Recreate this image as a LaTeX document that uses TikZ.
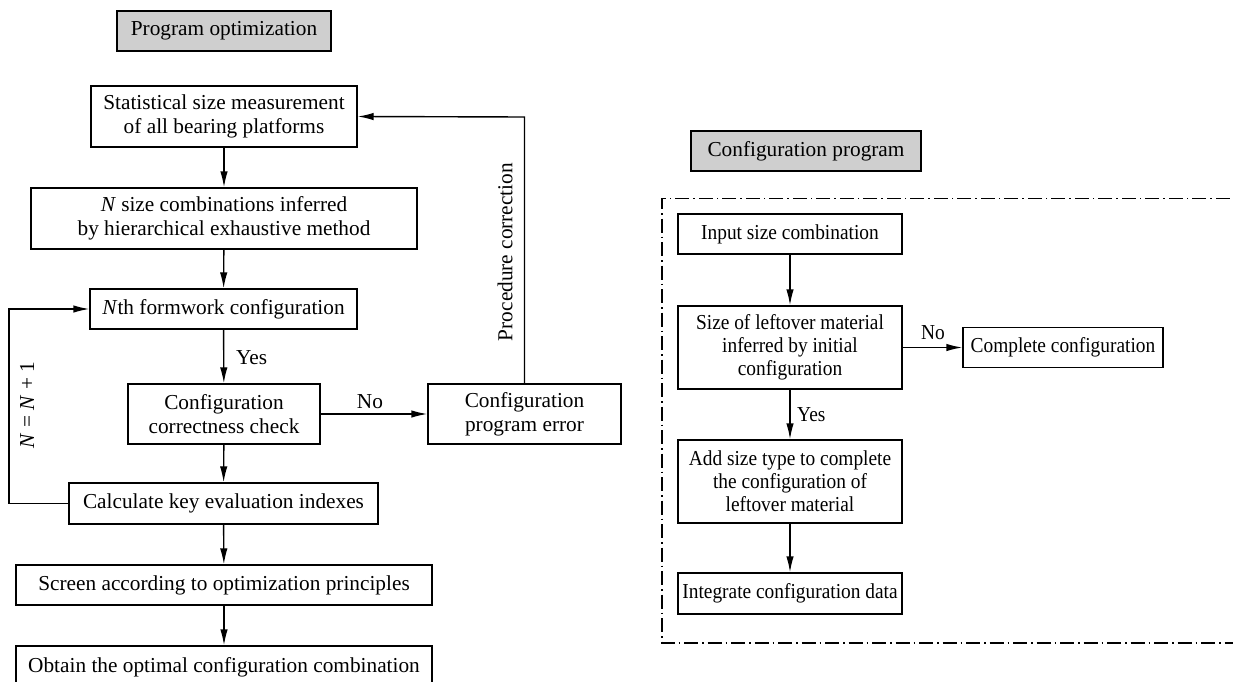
\documentclass[tikz,border=0pt]{standalone}
\usepackage{fontspec}
\setmainfont{Liberation Serif}
\newfontfamily\rfont[FakeStretch=0.91]{Liberation Serif}
\usetikzlibrary{arrows.meta}
\newcommand{\fsz}{\fontsize{21.3}{24}\selectfont}
\newcommand{\rfsz}{\rfont\fontsize{21.3}{23}\selectfont}
\begin{document}
\begin{tikzpicture}[x=1pt,y=-1pt,
  stepbox/.style={draw, line width=1.4pt, inner sep=0pt, align=center, font=\fsz},
  rbox/.style={stepbox, font=\rfsz},
  hdrbox/.style={stepbox, fill=black!19},
  conn/.style={line width=1.4pt, -{Latex[length=16pt,width=7.5pt]}},
  lbl/.style={inner sep=0pt, font=\fsz},
  rlbl/.style={inner sep=0pt, font=\rfsz},
  frame/.style={line width=1.4pt, dash pattern=on 14pt off 4pt on 1.5pt off 4pt}
]
\useasboundingbox (0,0) rectangle (1233,682);
\clip (0,0) rectangle (1233,682);

% left part
\node[hdrbox, minimum width=214pt, minimum height=40pt] (h1) at (224,31) {Program optimization};
\node[stepbox, minimum width=266pt, minimum height=61pt] (b1) at (224,116.5) {Statistical size measurement\\of all bearing platforms};
\node[stepbox, minimum width=386pt, minimum height=61pt] (b2) at (224,218.5) {\textit{N} size combinations inferred\\by hierarchical exhaustive method};
\node[stepbox, minimum width=267pt, minimum height=40pt] (b3) at (223.5,309) {\textit{N}th formwork configuration};
\node[stepbox, minimum width=192pt, minimum height=60pt] (b4) at (224,414) {Configuration\\correctness check};
\node[stepbox, minimum width=193pt, minimum height=60pt] (b5) at (524.5,414) {Configuration\\program error};
\node[stepbox, minimum width=309pt, minimum height=41pt] (b6) at (223.5,503.5) {Calculate key evaluation indexes};
\node[stepbox, minimum width=416pt, minimum height=40pt] (b7) at (224,585) {Screen according to optimization principles};
\node[stepbox, minimum width=416pt, minimum height=42pt] (b8) at (224,667) {Obtain the optimal configuration combination};

\coordinate (pc) at (524.5,117);
\coordinate (lpA) at (9,503.5);
\coordinate (lpB) at (9,309);

\draw[conn] (b1) -- (b2);
\draw[conn] (b2) -- (b3);
\draw[conn] (b3) -- (b4);
\draw[conn] (b4) -- (b6);
\draw[conn] (b6) -- (b7);
\draw[conn] (b7) -- (b8);
\draw[conn] (b4) -- (b5);
\draw[conn] (b5.north) -- (pc) -- (b1.east);
\draw[conn] (b6.west) -- (lpA) -- (lpB) -- (b3.west);

\node[lbl, anchor=west] (yes1) at (236,358) {Yes};
\node[lbl] (no1) at (370,402) {No};
\node[lbl, rotate=90] (proc) at (505,252) {Procedure correction};
\node[lbl, rotate=90] (nn) at (27,405) {\textit{N} = \textit{N} + 1};

% right part
\node[hdrbox, minimum width=230pt, minimum height=40pt] (h2) at (806,151) {Configuration program};
\draw[frame] (1300,198.5) -- (662,198.5) -- (662,643) -- (1300,643);
\node[rbox, minimum width=224pt, minimum height=40pt] (c1) at (790,234) {Input size combination};
\node[rbox, minimum width=224pt, minimum height=83pt] (c2) at (790,347.5) {Size of leftover material\\inferred by initial\\configuration};
\node[rbox, minimum width=200pt, minimum height=40pt] (c3) at (1063,347.5) {Complete configuration};
\node[rbox, minimum width=224pt, minimum height=83pt] (c4) at (790,481.5) {Add size type to complete\\the configuration of\\leftover material};
\node[rbox, minimum width=224pt, minimum height=41pt] (c5) at (790,593.5) {Integrate configuration data};

\draw[conn] (c1) -- (c2);
\draw[conn] (c2) -- (c3);
\draw[conn] (c2) -- (c4);
\draw[conn] (c4) -- (c5);
\node[rlbl] (no2) at (933,333) {No};
\node[rlbl, anchor=west] (yes2) at (797,415) {Yes};
\end{tikzpicture}
\end{document}
